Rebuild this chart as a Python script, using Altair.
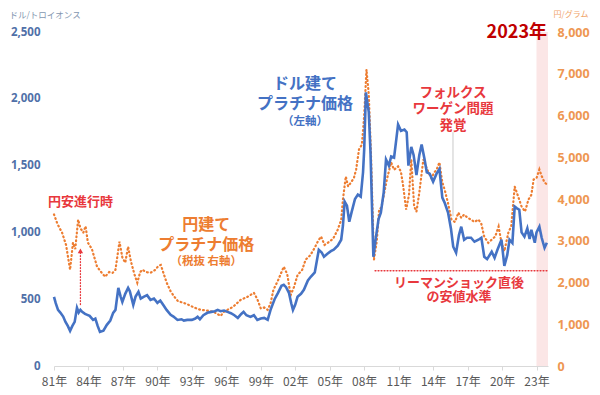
import altair as alt
import pandas as pd

# ---- data ----
usd_year = [1981.0, 1981.15, 1981.35, 1981.55, 1981.8, 1982.0, 1982.2, 1982.4, 1982.6, 1982.8,
            1983.0, 1983.15, 1983.3, 1983.45, 1983.7, 1983.9, 1984.1, 1984.4, 1984.6, 1984.8,
            1985.0, 1985.3, 1985.6, 1985.9, 1986.15, 1986.35, 1986.6, 1986.8, 1986.95, 1987.2,
            1987.45, 1987.6, 1987.9, 1988.1, 1988.35, 1988.55, 1988.8, 1989.1, 1989.4, 1989.7,
            1990.0, 1990.25, 1990.5, 1990.8, 1991.15, 1991.4, 1991.75, 1992.1, 1992.3, 1992.6,
            1993.0, 1993.3, 1993.5, 1993.7, 1994.0, 1994.35, 1994.7, 1995.0, 1995.25, 1995.5,
            1995.8, 1996.1, 1996.4, 1996.7, 1997.0, 1997.3, 1997.5, 1997.75, 1998.1, 1998.4,
            1998.7, 1999.0, 1999.3, 1999.6, 1999.85, 2000.2, 2000.5, 2000.8, 2001.0, 2001.2,
            2001.45, 2001.65, 2001.8, 2002.0, 2002.2, 2002.5, 2002.75, 2003.1, 2003.35, 2003.7,
            2004.05, 2004.3, 2004.5, 2004.8, 2005.1, 2005.35, 2005.7, 2006.0, 2006.15, 2006.3,
            2006.5, 2006.7, 2006.9, 2007.2, 2007.45, 2007.7, 2007.9, 2008.0, 2008.15, 2008.4,
            2008.55, 2008.8, 2009.0, 2009.25, 2009.45, 2009.7, 2009.9, 2010.15, 2010.35, 2010.6,
            2010.8, 2010.95, 2011.2, 2011.5, 2011.7, 2011.85, 2012.1, 2012.3, 2012.55, 2012.8,
            2013.0, 2013.25, 2013.45, 2013.7, 2014.0, 2014.3, 2014.55, 2014.8, 2015.0, 2015.3,
            2015.55, 2015.75, 2016.0, 2016.25, 2016.45, 2016.7, 2016.95, 2017.3, 2017.6, 2017.95,
            2018.2, 2018.45, 2018.7, 2019.1, 2019.35, 2019.6, 2019.95, 2020.2, 2020.45, 2020.65,
            2020.9, 2021.1, 2021.3, 2021.5, 2021.7, 2021.95, 2022.2, 2022.4, 2022.55, 2022.85,
            2023.0, 2023.25, 2023.45, 2023.7, 2023.9]
usd_price = [518, 470, 420, 400, 370, 330, 300, 263, 300, 330,
             435, 400, 420, 405, 390, 383, 375, 345, 355, 300,
             255, 265, 308, 340, 398, 420, 585, 520, 480, 540,
             585, 560, 458, 520, 555, 505, 518, 530, 495, 505,
             473, 490, 458, 420, 383, 370, 345, 350, 340, 345,
             345, 355, 368, 350, 380, 398, 405, 410, 420, 410,
             415, 405, 395, 380, 360, 390, 405, 380, 368, 380,
             345, 355, 360, 345, 420, 500, 548, 600, 608, 590,
             548, 470, 420, 460, 518, 540, 570, 640, 668, 700,
             870, 850, 818, 840, 860, 870, 900, 945, 1050, 1230,
             1200, 1080, 1150, 1250, 1283, 1268, 1450, 1620, 2048, 1900,
             1600, 818, 950, 1100, 1148, 1300, 1545, 1500, 1568, 1560,
             1700, 1808, 1760, 1770, 1750, 1500, 1640, 1580, 1430, 1580,
             1658, 1550, 1450, 1440, 1380, 1440, 1475, 1260, 1223, 1148,
             1030, 893, 848, 980, 1043, 945, 960, 960, 930, 945,
             960, 818, 800, 855, 810, 870, 945, 750, 830, 945,
             920, 1193, 1180, 1170, 1000, 968, 1030, 950, 1020, 923,
             1000, 1043, 960, 885, 923]

jpy_year = [1981.0, 1981.3, 1981.7, 1982.05, 1982.4, 1982.65, 1982.85, 1983.1, 1983.3, 1983.55,
            1983.75, 1983.95, 1984.3, 1984.75, 1985.1, 1985.45, 1985.8, 1986.1, 1986.35, 1986.7,
            1986.95, 1987.2, 1987.45, 1987.7, 1988.0, 1988.25, 1988.5, 1988.7, 1989.0, 1989.4,
            1989.8, 1990.1, 1990.3, 1990.5, 1990.8, 1991.15, 1991.5, 1991.8, 1992.2, 1992.6,
            1993.2, 1993.75, 1994.3, 1994.9, 1995.2, 1995.5, 1995.8, 1996.1, 1996.6, 1997.25,
            1997.8, 1998.4, 1998.7, 1999.0, 1999.3, 1999.6, 1999.85, 2000.1, 2000.5, 2001.0,
            2001.3, 2001.6, 2001.9, 2002.2, 2002.6, 2002.9, 2003.3, 2003.6, 2004.0, 2004.25,
            2004.55, 2004.85, 2005.3, 2005.7, 2006.0, 2006.15, 2006.4, 2006.6, 2006.85, 2007.1,
            2007.3, 2007.55, 2007.8, 2008.0, 2008.2, 2008.4, 2008.6, 2008.85, 2009.1, 2009.3,
            2009.5, 2009.75, 2010.0, 2010.35, 2010.6, 2010.95, 2011.2, 2011.4, 2011.65, 2011.9,
            2012.1, 2012.35, 2012.55, 2012.8, 2013.15, 2013.35, 2013.6, 2013.85, 2014.1, 2014.3,
            2014.55, 2014.8, 2015.0, 2015.3, 2015.6, 2015.9, 2016.2, 2016.45, 2016.7, 2017.0,
            2017.3, 2017.6, 2017.95, 2018.2, 2018.45, 2018.8, 2019.1, 2019.4, 2019.7, 2019.95,
            2020.2, 2020.55, 2020.8, 2021.1, 2021.35, 2021.7, 2022.0, 2022.3, 2022.55, 2022.75,
            2023.0, 2023.25, 2023.45, 2023.7, 2023.9]
jpy_price = [3630, 3400, 3195, 2900, 2306, 2955, 2800, 3507, 3300, 3195,
             3350, 2955, 2800, 2378, 2250, 2138, 2250, 2230, 2306, 2979,
             2600, 2474, 2859, 2500, 2200, 1994, 2250, 2306, 2250, 2234,
             2300, 2400, 2420, 2250, 2000, 1790, 1650, 1550, 1520, 1480,
             1400, 1345, 1330, 1297, 1250, 1200, 1300, 1345, 1420, 1585,
             1650, 1753, 1600, 1380, 1400, 1345, 1500, 1825, 2050, 2378,
             2200, 1700, 1900, 2180, 2300, 2546, 2650, 2786, 3000, 3099,
             2900, 2955, 3050, 3267, 3500, 3988, 4540, 4300, 4396, 4500,
             4708, 5188, 5300, 6000, 7100, 6500, 5000, 2546, 3000, 3747,
             3800, 4156, 4500, 4876, 4700, 4780, 4650, 4300, 3747, 4100,
             4948, 3819, 3700, 4156, 4948, 4800, 4636, 4500, 4636, 4700,
             4876, 4400, 4228, 3900, 3507, 3450, 3675, 3550, 3627, 3550,
             3507, 3450, 3507, 3400, 3099, 2950, 3027, 3100, 3339, 2955,
             2750, 3195, 3350, 4300, 4100, 3819, 3700, 3988, 4100, 4468,
             4500, 4708, 4550, 4396, 4350]

tick_years = list(range(1981, 2024, 3))
usd_ticks = [0, 500, 1000, 1500, 2000, 2500]
jpy_ticks = [0, 1000, 2000, 3000, 4000, 5000, 6000, 7000, 8000]

highlight_start = [2023]
highlight_end = [2024]

# annotation texts and anchors (year, value on the dollar axis)
yen_weak_text = ["円安進行時"]
yen_weak_year = [1983.3]
yen_weak_usd = [1231]
arrow_from_usd = 460
arrow_to_usd = 862

yen_label_text = ["円建て", "プラチナ価格"]
yen_label_usd = [1059, 908]
yen_note_text = ["（税抜 右軸）"]
yen_note_usd = [781]
yen_label_year = 1994.25

usd_label_text = ["ドル建て", "プラチナ価格"]
usd_label_usd = [2110, 1959]
usd_note_text = ["（左軸）"]
usd_note_usd = [1824]
usd_label_year = 2002.85

vw_text = ["フォルクス", "ワーゲン問題", "発覚"]
vw_usd = [2042, 1922, 1794]
vw_year = 2015.73
vw_line_usd = [1120, 1750]

lehman_text = ["リーマンショック直後", "の安値水準"]
lehman_usd = [623, 518]
lehman_year = 2016.25
lehman_level_usd = 713
lehman_from_year = 2008.95

# ---- styles ----
BLUE = "#4472C4"
ORANGE = "#ED7D31"
RED = "#E8383D"
DARKRED = "#C00000"
FONT = "Noto Sans CJK JP"
XDOM = [1981, 2024]
YDOM = [0, 2500]

usd_df = pd.DataFrame({"year": usd_year, "usd": usd_price})
jpy_df = pd.DataFrame({"year": jpy_year, "jpy": jpy_price})

x_axis = alt.Axis(values=tick_years, labelExpr="slice(toString(datum.value), 2) + '年'",
                  grid=False, domainColor="#D9D9D9", tickColor="#D9D9D9", tickSize=4,
                  labelPadding=6, labelFontSize=12, labelColor="#595959", labelFont=FONT,
                  title=None, labelFlush=False)


def xq(field):
    return alt.X(field, type="quantitative",
                 scale=alt.Scale(domain=XDOM, nice=False, zero=False), axis=x_axis)


def yq(field):
    return alt.Y(field, type="quantitative", scale=alt.Scale(domain=YDOM, nice=False), axis=None)


band = alt.Chart(pd.DataFrame({"s": highlight_start, "e": highlight_end})).mark_rect(
    color="#FBE3E3", opacity=0.9
).encode(x=xq("s:Q"), x2="e:Q", y=alt.value(0), y2=alt.value(334))

orange_line = alt.Chart(jpy_df).mark_line(
    color=ORANGE, strokeWidth=2.2, strokeDash=[0.8, 3.2], strokeCap="round"
).encode(
    x=xq("year:Q"),
    y=alt.Y("jpy:Q", scale=alt.Scale(domain=[0, 8000], nice=False),
            axis=alt.Axis(orient="right", values=jpy_ticks, format=",.0f", grid=False, domain=False,
                          ticks=False, labelPadding=9, labelFontSize=12.5, labelFontWeight="bold",
                          labelColor="#EE9752", labelFont="Noto Sans",
                          title="円/グラム", titleAngle=0, titleX=5, titleY=-18,
                          titleAlign="left", titleBaseline="middle", titleFontSize=8,
                          titleFontWeight="normal", titleColor="#F0A468", titleFont=FONT)),
)

blue_line = alt.Chart(usd_df).mark_line(color=BLUE, strokeWidth=2.6).encode(
    x=xq("year:Q"),
    y=alt.Y("usd:Q", scale=alt.Scale(domain=YDOM, nice=False),
            axis=alt.Axis(orient="left", values=usd_ticks, format=",.0f", grid=False, domain=False,
                          ticks=False, labelPadding=14, labelFontSize=11.5, labelFontWeight="bold",
                          labelColor="#5070A8", labelFont="Noto Sans",
                          title="ドル/トロイオンス", titleAngle=0, titleX=-45, titleY=-18,
                          titleAlign="left", titleBaseline="middle", titleFontSize=8.5,
                          titleFontWeight="normal", titleColor="#8497B0", titleFont=FONT)),
)


def texts(lines, years, values, color, size):
    df = pd.DataFrame({"t": lines, "year": years, "usd": values})
    return alt.Chart(df).mark_text(
        font=FONT, fontWeight="bold", fontSize=size, color=color, align="center", baseline="middle"
    ).encode(x=xq("year:Q"), y=yq("usd:Q"), text="t:N")


arrow_df = pd.DataFrame({"year": yen_weak_year, "a": [arrow_from_usd], "b": [arrow_to_usd]})
arrow_line = alt.Chart(arrow_df).mark_rule(
    color=RED, strokeWidth=1.3, strokeDash=[0.8, 2.2], strokeCap="round"
).encode(x=xq("year:Q"), y=yq("a:Q"), y2="b:Q")
arrow_head = alt.Chart(arrow_df).mark_point(
    shape="triangle-up", filled=True, color=RED, size=28, opacity=1
).encode(x=xq("year:Q"), y=yq("b:Q"))

vw_rule = alt.Chart(pd.DataFrame({"year": [vw_year], "a": [vw_line_usd[0]], "b": [vw_line_usd[1]]})
                    ).mark_rule(color="#C9C9C9", strokeWidth=1).encode(
    x=xq("year:Q"), y=yq("a:Q"), y2="b:Q")

lehman_rule = alt.Chart(pd.DataFrame({"s": [lehman_from_year], "e": [XDOM[1]], "v": [lehman_level_usd]})
                        ).mark_rule(color=RED, strokeWidth=1.5, strokeDash=[0.8, 2.2],
                                    strokeCap="round").encode(
    x=xq("s:Q"), x2="e:Q", y=yq("v:Q"))

year_label = texts(["2023年"], [XDOM[1]], [YDOM[1]], DARKRED, 18).mark_text(
    font=FONT, fontWeight="bold", fontSize=18, color=DARKRED,
    align="right", baseline="middle", dx=-1, dy=1
)

layers = [
    band,
    orange_line,
    blue_line,
    vw_rule,
    lehman_rule,
    arrow_line,
    arrow_head,
    texts(yen_weak_text, yen_weak_year, yen_weak_usd, RED, 13),
    texts(yen_label_text, [yen_label_year] * 2, yen_label_usd, ORANGE, 16),
    texts(yen_note_text, [yen_label_year], yen_note_usd, ORANGE, 11.5),
    texts(usd_label_text, [usd_label_year] * 2, usd_label_usd, BLUE, 16),
    texts(usd_note_text, [usd_label_year], usd_note_usd, BLUE, 11.5),
    texts(vw_text, [vw_year] * 3, vw_usd, RED, 13.5),
    texts(lehman_text, [lehman_year] * 2, lehman_usd, RED, 13),
    year_label,
]

chart = alt.layer(*layers).resolve_scale(y="independent").properties(
    width=494, height=334,
    autosize=alt.AutoSizeParams(type="none"),
    padding={"left": 46, "top": 24, "right": 44, "bottom": 21},
    background="white",
).configure_view(stroke=None)

chart.save("out.html", embed_options={"renderer": "svg", "actions": False})
